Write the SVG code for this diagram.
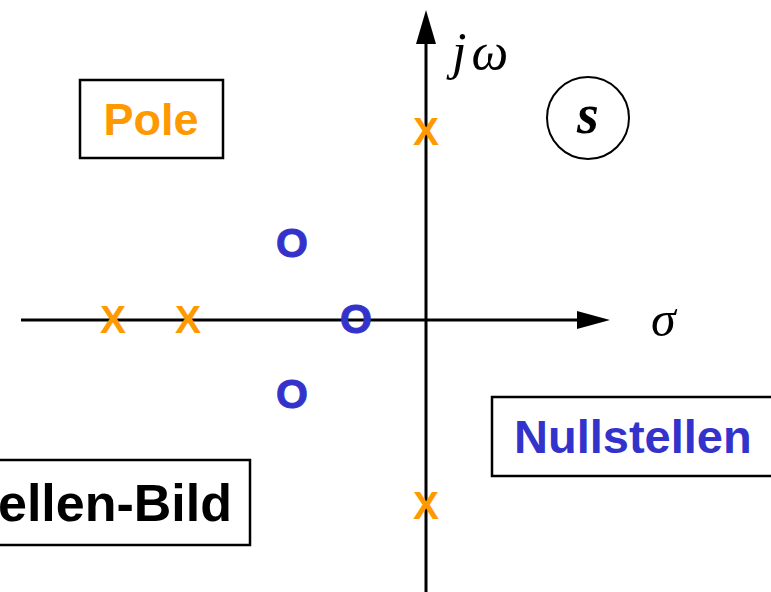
<svg xmlns="http://www.w3.org/2000/svg" width="771" height="592" viewBox="0 0 771 592">
<style>
.box{fill:#fff;stroke:#000;stroke-width:2.5}
.lbl{font-family:"Liberation Sans",Arial,sans-serif;font-weight:bold}
.pole{font-family:"Liberation Sans",Arial,sans-serif;font-weight:bold;font-size:39px;fill:#FF9900;text-anchor:middle}
.zero{font-family:"Liberation Sans",Arial,sans-serif;font-weight:bold;font-size:41px;fill:#3333CC;text-anchor:middle;stroke:#3333CC;stroke-width:1}
.math{font-family:"Liberation Serif","Times New Roman",serif;font-style:italic}
.axis{stroke:#000;stroke-width:3;fill:none}
</style>
<rect width="771" height="592" fill="#fff"/>
<g id="axes">
<line class="axis" x1="21" y1="320" x2="590" y2="320"/>
<polygon points="610,320 577,311 577,329" fill="#000"/>
<line class="axis" x1="426" y1="592" x2="426" y2="30"/>
<polygon points="426,10 416,44 436,44" fill="#000"/>
</g>
<g id="axis-labels">
<text class="math" x="452" y="69" font-size="52" letter-spacing="5">jω</text>
<text class="math" x="651" y="336" font-size="50">σ</text>
</g>
<g id="s-plane">
<circle cx="588" cy="118" r="41" fill="none" stroke="#000" stroke-width="2"/>
<text class="math" x="588" y="133" font-size="56" font-weight="bold" text-anchor="middle">s</text>
</g>
<g id="poles">
<text class="pole" x="113" y="333">X</text>
<text class="pole" x="188" y="333">X</text>
<text class="pole" x="426" y="145">X</text>
<text class="pole" x="426" y="519">X</text>
</g>
<g id="zeros">
<text class="zero" x="292" y="257">O</text>
<text class="zero" x="356" y="333">O</text>
<text class="zero" x="292" y="408">O</text>
</g>
<g id="label-pole">
<rect class="box" x="80" y="80" width="143" height="78"/>
<text class="lbl" x="151" y="135" font-size="45" fill="#FF9900" text-anchor="middle">Pole</text>
</g>
<g id="label-nullstellen">
<rect class="box" x="492" y="397" width="290" height="79"/>
<text class="lbl" x="514" y="453" font-size="47" fill="#3333CC">Nullstellen</text>
</g>
<g id="label-bild">
<rect class="box" x="-10" y="460" width="260" height="85"/>
<text class="lbl" x="232" y="521" font-size="52" fill="#000" text-anchor="end">ellen-Bild</text>
</g>
</svg>
